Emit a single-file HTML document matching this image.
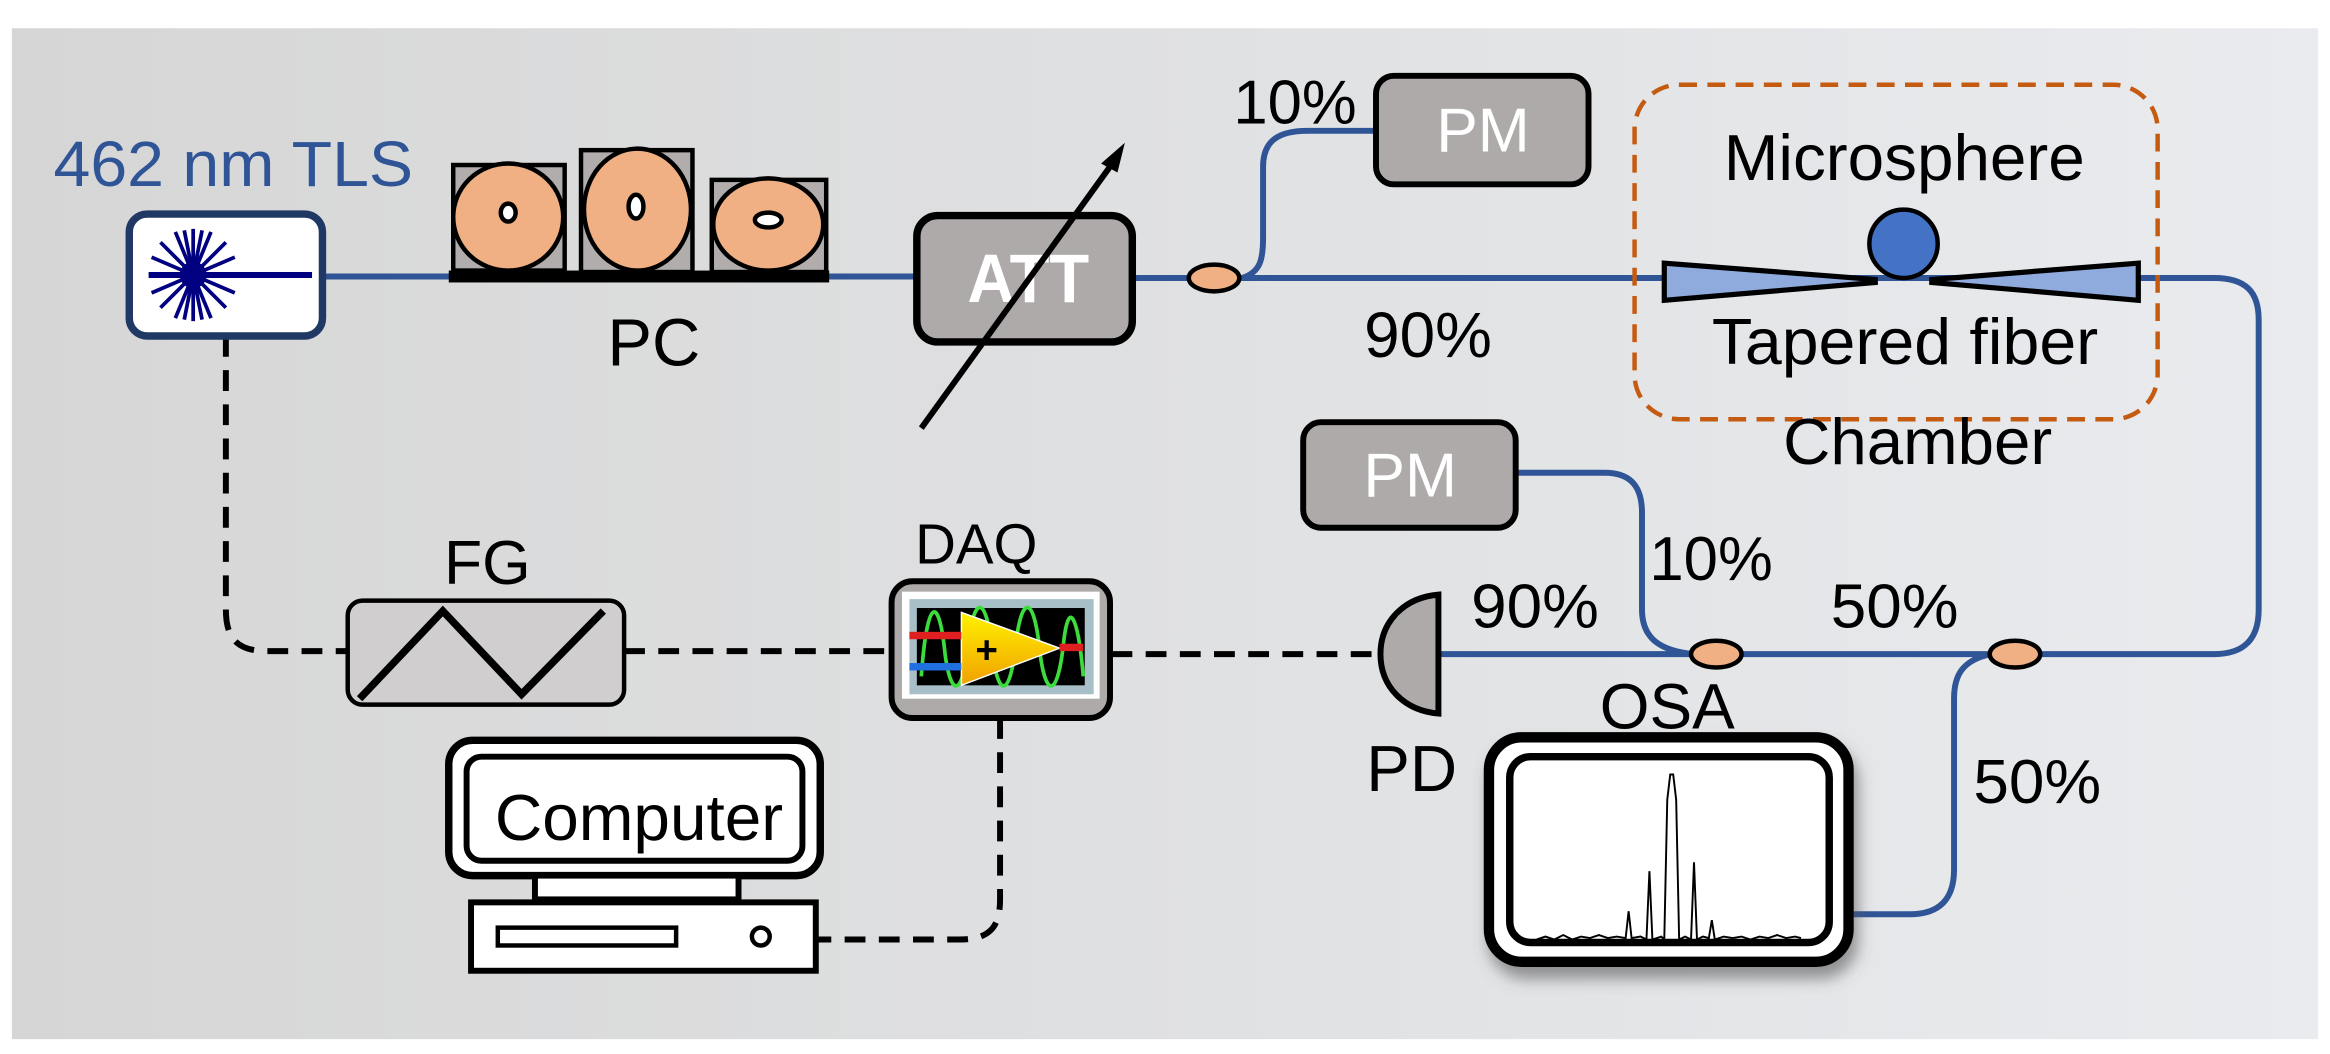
<!DOCTYPE html>
<html><head><meta charset="utf-8"><style>
html,body{margin:0;padding:0;background:#fff;}
svg{display:block;}
text{font-family:"Liberation Sans",Arial,sans-serif;}
</style></head><body>
<svg width="2330" height="1054" viewBox="0 0 1568 709" preserveAspectRatio="none" xmlns="http://www.w3.org/2000/svg">
<defs>
<linearGradient id="bg" x1="0" x2="1" y1="0" y2="0"><stop offset="0" stop-color="#d6d6d6"/><stop offset="1" stop-color="#e9ebee"/></linearGradient>
<linearGradient id="amp" x1="0" x2="0" y1="0" y2="1"><stop offset="0" stop-color="#fff200"/><stop offset="1" stop-color="#f0a000"/></linearGradient>
<filter id="sh" x="-10%" y="-10%" width="130%" height="130%"><feDropShadow dx="3" dy="8" stdDeviation="5" flood-color="#555" flood-opacity="0.6"/></filter>
</defs>
<rect width="1568" height="709" fill="#fff"/>
<rect x="8" y="19" width="1552" height="680" fill="url(#bg)"/>

<g fill="none" stroke="#2f5597" stroke-width="4">
<path d="M218 186 H615"/>
<path d="M762 187 H1437"/>
<path d="M836 187 C848 183 850 175 850 160 V112 C850 95 860 88 880 88 H925"/>
<path d="M1437 187 H1490 C1512 187 1520 197 1520 215 V410 C1520 430 1510 440 1490 440 H968"/>
<path d="M1020 318 H1080 C1098 318 1105 328 1105 345 V410 C1105 430 1118 438 1140 440"/>
<path d="M1340 440 C1320 444 1315 455 1315 470 V585 C1315 605 1305 615 1285 615 H1245"/>
</g>

<g fill="none" stroke="#000" stroke-width="4" stroke-dasharray="14 9">
<path d="M152 226 V410 C152 430 160 438 180 438 H233"/>
<path d="M420 438 H598"/>
<path d="M748 440 H928"/>
<path d="M673 483 V605 C673 625 665 632 645 632 H549"/>
</g>

<text x="36" y="125" font-size="43" fill="#2f5597" textLength="242" lengthAdjust="spacingAndGlyphs">462 nm TLS</text>
<rect x="87" y="144" width="130" height="82" rx="12" fill="#fff" stroke="#1f3864" stroke-width="5"/>
<g stroke="#000080" stroke-width="2.5">
<line x1="130" y1="154" x2="130" y2="216"/><line x1="100" y1="185" x2="210" y2="185" stroke-width="4"/>
<line x1="108" y1="163" x2="152" y2="207"/><line x1="108" y1="207" x2="152" y2="163"/>
<line x1="118" y1="156" x2="142" y2="214"/><line x1="142" y1="156" x2="118" y2="214"/>
<line x1="102" y1="173" x2="158" y2="197"/><line x1="102" y1="197" x2="158" y2="173"/>
<line x1="124" y1="155" x2="136" y2="215"/><line x1="136" y1="155" x2="124" y2="215"/>
</g>
<circle cx="130" cy="185" r="9" fill="#000080"/>

<rect x="302" y="182" width="256" height="8" fill="#000"/>
<g stroke="#000" stroke-width="3">
<rect x="305" y="111" width="75" height="71" fill="#b0adac"/>
<ellipse cx="342" cy="146" rx="37" ry="36" fill="#f0b084"/>
<rect x="391" y="101" width="75" height="82" fill="#b0adac"/>
<ellipse cx="429" cy="141" rx="36" ry="41" fill="#f0b084"/>
<rect x="479" y="121" width="77" height="62" fill="#b0adac"/>
<ellipse cx="517" cy="151" rx="37" ry="31" fill="#f0b084"/>
<ellipse cx="342" cy="143" rx="5" ry="6" fill="#fff"/>
<ellipse cx="428" cy="139" rx="5" ry="8" fill="#fff"/>
<ellipse cx="517" cy="148" rx="9" ry="5" fill="#fff"/>
</g>
<text x="440" y="246" font-size="45" text-anchor="middle">PC</text>

<rect x="617" y="145" width="145" height="85" rx="14" fill="#aeaaaa" stroke="#000" stroke-width="5"/>
<text x="692" y="203" font-size="46" font-weight="bold" fill="#fff" text-anchor="middle" textLength="82" lengthAdjust="spacingAndGlyphs">ATT</text>
<line x1="620" y1="288" x2="750" y2="108" stroke="#000" stroke-width="4"/>
<polygon points="757,96 741,110 752,116" fill="#000"/>

<ellipse cx="817" cy="187" rx="17" ry="9" fill="#f0b084" stroke="#000" stroke-width="3"/>
<text x="830" y="83" font-size="42" textLength="83" lengthAdjust="spacingAndGlyphs">10%</text>
<rect x="926" y="51" width="143" height="73" rx="12" fill="#aeaaaa" stroke="#000" stroke-width="4"/>
<text x="998" y="102" font-size="42" fill="#fff" text-anchor="middle">PM</text>
<text x="918" y="240" font-size="43" textLength="86" lengthAdjust="spacingAndGlyphs">90%</text>

<rect x="1100" y="57" width="352" height="225" rx="30" fill="none" stroke="#c55a11" stroke-width="3" stroke-dasharray="12 7"/>
<text x="1160" y="121" font-size="44" textLength="243" lengthAdjust="spacingAndGlyphs">Microsphere</text>
<circle cx="1281" cy="164" r="23" fill="#4472c4" stroke="#000" stroke-width="3"/>
<polygon points="1120,177 1120,202 1262,190 1262,188" fill="#8faadc" stroke="#000" stroke-width="3.5"/>
<polygon points="1439,177 1439,202 1300,190 1300,188" fill="#8faadc" stroke="#000" stroke-width="3.5"/>
<text x="1152" y="245" font-size="44" textLength="260" lengthAdjust="spacingAndGlyphs">Tapered fiber</text>
<text x="1200" y="312" font-size="44" textLength="181" lengthAdjust="spacingAndGlyphs">Chamber</text>

<rect x="877" y="284" width="143" height="71" rx="12" fill="#aeaaaa" stroke="#000" stroke-width="4"/>
<text x="949" y="334" font-size="42" fill="#fff" text-anchor="middle">PM</text>
<text x="1110" y="390" font-size="42" textLength="83" lengthAdjust="spacingAndGlyphs">10%</text>
<text x="990" y="422" font-size="42" textLength="86" lengthAdjust="spacingAndGlyphs">90%</text>
<text x="1232" y="422" font-size="42" textLength="86" lengthAdjust="spacingAndGlyphs">50%</text>
<text x="1328" y="540" font-size="42" textLength="86" lengthAdjust="spacingAndGlyphs">50%</text>
<ellipse cx="1155" cy="440" rx="17" ry="9" fill="#f0b084" stroke="#000" stroke-width="3"/>
<ellipse cx="1356" cy="440" rx="17" ry="9" fill="#f0b084" stroke="#000" stroke-width="3"/>

<path d="M968 400 V480 C945 478 929 462 929 440 C929 418 945 402 968 400 Z" fill="#aeaaaa" stroke="#000" stroke-width="4"/>
<text x="950" y="532" font-size="44" text-anchor="middle">PD</text>

<text x="1122" y="490" font-size="43" text-anchor="middle">OSA</text>
<rect x="1002" y="496" width="242" height="151" rx="22" fill="#fff" stroke="#000" stroke-width="7" filter="url(#sh)"/>
<rect x="1016" y="509" width="215" height="125" rx="14" fill="#fff" stroke="#000" stroke-width="5"/>
<polyline fill="none" stroke="#000" stroke-width="1.3" points="1034,632 1040,630 1046,632 1052,629 1058,632 1064,630 1070,631 1076,629 1082,631 1088,630 1094,631 1096,613 1098,631 1104,630 1108,632 1110,586 1112,632 1118,630 1120,632 1122,538 1124,521 1126,521 1128,538 1130,632 1134,630 1138,632 1140,580 1142,632 1146,630 1150,631 1152,619 1154,632 1160,630 1166,631 1172,630 1178,632 1184,630 1190,631 1196,629 1202,631 1208,630 1212,631"/>

<text x="328" y="393" font-size="42" text-anchor="middle">FG</text>
<rect x="234" y="404" width="186" height="70" rx="10" fill="#d0cece" stroke="#000" stroke-width="3"/>
<polyline points="242,470 298,411 351,467 406,411" fill="none" stroke="#000" stroke-width="5"/>

<text x="657" y="379" font-size="38" text-anchor="middle">DAQ</text>
<rect x="600" y="391" width="147" height="92" rx="14" fill="#aeaaaa" stroke="#000" stroke-width="4"/>
<rect x="607" y="398" width="133" height="72" fill="#fff"/>
<rect x="612" y="403" width="124" height="64" fill="#a9bfc8"/>
<rect x="617" y="409" width="113" height="52" fill="#000"/>
<path d="M620 455 C624 400 632 400 636 440 C640 470 648 470 652 430 C656 400 664 400 668 440 C672 470 680 470 684 430 C688 400 696 400 700 440 C704 470 712 470 716 430 C720 400 726 420 729 455" fill="none" stroke="#3ddc3d" stroke-width="2.5"/>
<polygon points="647,412 647,461 713,436" fill="url(#amp)" stroke="#fff" stroke-width="1"/>
<text x="664" y="446" font-size="26" font-weight="bold" text-anchor="middle">+</text>
<rect x="612" y="425" width="35" height="5" fill="#e02020"/>
<rect x="612" y="446" width="35" height="5" fill="#2070e0"/>
<rect x="713" y="433" width="16" height="5" fill="#e02020"/>

<rect x="302" y="498" width="250" height="91" rx="16" fill="#fff" stroke="#000" stroke-width="5"/>
<rect x="314" y="509" width="226" height="70" rx="10" fill="#fff" stroke="#000" stroke-width="4"/>
<text x="333" y="565" font-size="44" textLength="194" lengthAdjust="spacingAndGlyphs">Computer</text>
<rect x="360" y="589" width="137" height="16" fill="#fff" stroke="#000" stroke-width="4"/>
<rect x="317" y="607" width="232" height="46" fill="#fff" stroke="#000" stroke-width="4"/>
<rect x="335" y="624" width="120" height="12" fill="#fff" stroke="#000" stroke-width="3"/>
<circle cx="512" cy="630" r="6" fill="#fff" stroke="#000" stroke-width="3"/>
</svg>
</body></html>
